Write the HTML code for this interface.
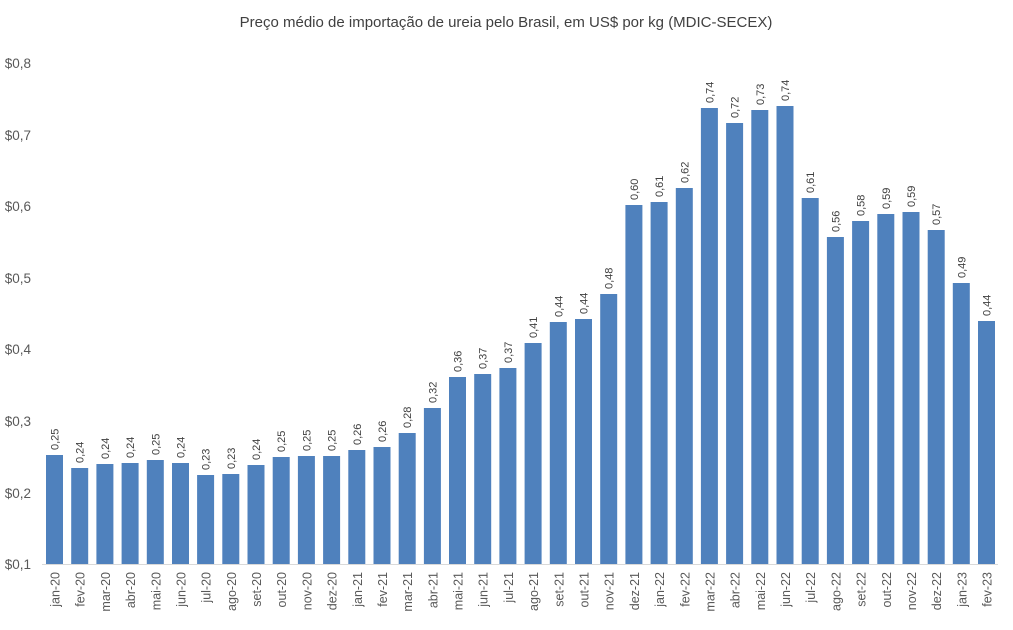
<!DOCTYPE html>
<html><head><meta charset="utf-8"><style>
html,body{margin:0;padding:0;background:#fff;}
svg{display:block;font-family:"Liberation Sans",sans-serif;}
.v{font-size:11px;fill:#404040;}
.m{font-size:12.5px;fill:#595959;text-anchor:end;}
.b{fill:#4f81bd;}
</style></head><body>
<svg width="1013" height="630" xmlns="http://www.w3.org/2000/svg">
<rect width="1013" height="630" fill="#fff"/>
<text x="506" y="27" text-anchor="middle" font-size="15" fill="#404040">Preço médio de importação de ureia pelo Brasil, em US$ por kg (MDIC-SECEX)</text>
<g font-size="13.5" fill="#595959" text-anchor="end">
<text x="31" y="569">$0,1</text><text x="31" y="498">$0,2</text><text x="31" y="426">$0,3</text><text x="31" y="354">$0,4</text><text x="31" y="283">$0,5</text><text x="31" y="211">$0,6</text><text x="31" y="140">$0,7</text><text x="31" y="68">$0,8</text>
</g>
<line x1="42" y1="564.5" x2="998" y2="564.5" stroke="#d9d9d9" stroke-width="1"/>
<g transform="translate(46,0)"><rect class="b" x="0" y="455" width="17" height="109"/><text class="v" transform="translate(12.5,450) rotate(-90)">0,25</text><text class="m" transform="translate(13.5,572) rotate(-90)">jan-20</text></g>
<g transform="translate(71.2,0)"><rect class="b" x="0" y="468" width="17" height="96"/><text class="v" transform="translate(12.5,463) rotate(-90)">0,24</text><text class="m" transform="translate(13.5,572) rotate(-90)">fev-20</text></g>
<g transform="translate(96.4,0)"><rect class="b" x="0" y="464" width="17" height="100"/><text class="v" transform="translate(12.5,459) rotate(-90)">0,24</text><text class="m" transform="translate(13.5,572) rotate(-90)">mar-20</text></g>
<g transform="translate(121.6,0)"><rect class="b" x="0" y="463" width="17" height="101"/><text class="v" transform="translate(12.5,458) rotate(-90)">0,24</text><text class="m" transform="translate(13.5,572) rotate(-90)">abr-20</text></g>
<g transform="translate(146.8,0)"><rect class="b" x="0" y="460" width="17" height="104"/><text class="v" transform="translate(12.5,455) rotate(-90)">0,25</text><text class="m" transform="translate(13.5,572) rotate(-90)">mai-20</text></g>
<g transform="translate(172,0)"><rect class="b" x="0" y="463" width="17" height="101"/><text class="v" transform="translate(12.5,458) rotate(-90)">0,24</text><text class="m" transform="translate(13.5,572) rotate(-90)">jun-20</text></g>
<g transform="translate(197.1,0)"><rect class="b" x="0" y="475" width="17" height="89"/><text class="v" transform="translate(12.5,470) rotate(-90)">0,23</text><text class="m" transform="translate(13.5,572) rotate(-90)">jul-20</text></g>
<g transform="translate(222.3,0)"><rect class="b" x="0" y="474" width="17" height="90"/><text class="v" transform="translate(12.5,469) rotate(-90)">0,23</text><text class="m" transform="translate(13.5,572) rotate(-90)">ago-20</text></g>
<g transform="translate(247.5,0)"><rect class="b" x="0" y="465" width="17" height="99"/><text class="v" transform="translate(12.5,460) rotate(-90)">0,24</text><text class="m" transform="translate(13.5,572) rotate(-90)">set-20</text></g>
<g transform="translate(272.7,0)"><rect class="b" x="0" y="457" width="17" height="107"/><text class="v" transform="translate(12.5,452) rotate(-90)">0,25</text><text class="m" transform="translate(13.5,572) rotate(-90)">out-20</text></g>
<g transform="translate(297.9,0)"><rect class="b" x="0" y="456" width="17" height="108"/><text class="v" transform="translate(12.5,451) rotate(-90)">0,25</text><text class="m" transform="translate(13.5,572) rotate(-90)">nov-20</text></g>
<g transform="translate(323.1,0)"><rect class="b" x="0" y="456" width="17" height="108"/><text class="v" transform="translate(12.5,451) rotate(-90)">0,25</text><text class="m" transform="translate(13.5,572) rotate(-90)">dez-20</text></g>
<g transform="translate(348.3,0)"><rect class="b" x="0" y="450" width="17" height="114"/><text class="v" transform="translate(12.5,445) rotate(-90)">0,26</text><text class="m" transform="translate(13.5,572) rotate(-90)">jan-21</text></g>
<g transform="translate(373.5,0)"><rect class="b" x="0" y="447" width="17" height="117"/><text class="v" transform="translate(12.5,442) rotate(-90)">0,26</text><text class="m" transform="translate(13.5,572) rotate(-90)">fev-21</text></g>
<g transform="translate(398.7,0)"><rect class="b" x="0" y="433" width="17" height="131"/><text class="v" transform="translate(12.5,428) rotate(-90)">0,28</text><text class="m" transform="translate(13.5,572) rotate(-90)">mar-21</text></g>
<g transform="translate(423.9,0)"><rect class="b" x="0" y="408" width="17" height="156"/><text class="v" transform="translate(12.5,403) rotate(-90)">0,32</text><text class="m" transform="translate(13.5,572) rotate(-90)">abr-21</text></g>
<g transform="translate(449,0)"><rect class="b" x="0" y="377" width="17" height="187"/><text class="v" transform="translate(12.5,372) rotate(-90)">0,36</text><text class="m" transform="translate(13.5,572) rotate(-90)">mai-21</text></g>
<g transform="translate(474.2,0)"><rect class="b" x="0" y="374" width="17" height="190"/><text class="v" transform="translate(12.5,369) rotate(-90)">0,37</text><text class="m" transform="translate(13.5,572) rotate(-90)">jun-21</text></g>
<g transform="translate(499.4,0)"><rect class="b" x="0" y="368" width="17" height="196"/><text class="v" transform="translate(12.5,363) rotate(-90)">0,37</text><text class="m" transform="translate(13.5,572) rotate(-90)">jul-21</text></g>
<g transform="translate(524.6,0)"><rect class="b" x="0" y="343" width="17" height="221"/><text class="v" transform="translate(12.5,338) rotate(-90)">0,41</text><text class="m" transform="translate(13.5,572) rotate(-90)">ago-21</text></g>
<g transform="translate(549.8,0)"><rect class="b" x="0" y="322" width="17" height="242"/><text class="v" transform="translate(12.5,317) rotate(-90)">0,44</text><text class="m" transform="translate(13.5,572) rotate(-90)">set-21</text></g>
<g transform="translate(575,0)"><rect class="b" x="0" y="319" width="17" height="245"/><text class="v" transform="translate(12.5,314) rotate(-90)">0,44</text><text class="m" transform="translate(13.5,572) rotate(-90)">out-21</text></g>
<g transform="translate(600.2,0)"><rect class="b" x="0" y="294" width="17" height="270"/><text class="v" transform="translate(12.5,289) rotate(-90)">0,48</text><text class="m" transform="translate(13.5,572) rotate(-90)">nov-21</text></g>
<g transform="translate(625.4,0)"><rect class="b" x="0" y="205" width="17" height="359"/><text class="v" transform="translate(12.5,200) rotate(-90)">0,60</text><text class="m" transform="translate(13.5,572) rotate(-90)">dez-21</text></g>
<g transform="translate(650.6,0)"><rect class="b" x="0" y="202" width="17" height="362"/><text class="v" transform="translate(12.5,197) rotate(-90)">0,61</text><text class="m" transform="translate(13.5,572) rotate(-90)">jan-22</text></g>
<g transform="translate(675.8,0)"><rect class="b" x="0" y="188" width="17" height="376"/><text class="v" transform="translate(12.5,183) rotate(-90)">0,62</text><text class="m" transform="translate(13.5,572) rotate(-90)">fev-22</text></g>
<g transform="translate(700.9,0)"><rect class="b" x="0" y="108" width="17" height="456"/><text class="v" transform="translate(12.5,103) rotate(-90)">0,74</text><text class="m" transform="translate(13.5,572) rotate(-90)">mar-22</text></g>
<g transform="translate(726.1,0)"><rect class="b" x="0" y="123" width="17" height="441"/><text class="v" transform="translate(12.5,118) rotate(-90)">0,72</text><text class="m" transform="translate(13.5,572) rotate(-90)">abr-22</text></g>
<g transform="translate(751.3,0)"><rect class="b" x="0" y="110" width="17" height="454"/><text class="v" transform="translate(12.5,105) rotate(-90)">0,73</text><text class="m" transform="translate(13.5,572) rotate(-90)">mai-22</text></g>
<g transform="translate(776.5,0)"><rect class="b" x="0" y="106" width="17" height="458"/><text class="v" transform="translate(12.5,101) rotate(-90)">0,74</text><text class="m" transform="translate(13.5,572) rotate(-90)">jun-22</text></g>
<g transform="translate(801.7,0)"><rect class="b" x="0" y="198" width="17" height="366"/><text class="v" transform="translate(12.5,193) rotate(-90)">0,61</text><text class="m" transform="translate(13.5,572) rotate(-90)">jul-22</text></g>
<g transform="translate(826.9,0)"><rect class="b" x="0" y="237" width="17" height="327"/><text class="v" transform="translate(12.5,232) rotate(-90)">0,56</text><text class="m" transform="translate(13.5,572) rotate(-90)">ago-22</text></g>
<g transform="translate(852.1,0)"><rect class="b" x="0" y="221" width="17" height="343"/><text class="v" transform="translate(12.5,216) rotate(-90)">0,58</text><text class="m" transform="translate(13.5,572) rotate(-90)">set-22</text></g>
<g transform="translate(877.3,0)"><rect class="b" x="0" y="214" width="17" height="350"/><text class="v" transform="translate(12.5,209) rotate(-90)">0,59</text><text class="m" transform="translate(13.5,572) rotate(-90)">out-22</text></g>
<g transform="translate(902.5,0)"><rect class="b" x="0" y="212" width="17" height="352"/><text class="v" transform="translate(12.5,207) rotate(-90)">0,59</text><text class="m" transform="translate(13.5,572) rotate(-90)">nov-22</text></g>
<g transform="translate(927.7,0)"><rect class="b" x="0" y="230" width="17" height="334"/><text class="v" transform="translate(12.5,225) rotate(-90)">0,57</text><text class="m" transform="translate(13.5,572) rotate(-90)">dez-22</text></g>
<g transform="translate(952.8,0)"><rect class="b" x="0" y="283" width="17" height="281"/><text class="v" transform="translate(12.5,278) rotate(-90)">0,49</text><text class="m" transform="translate(13.5,572) rotate(-90)">jan-23</text></g>
<g transform="translate(978,0)"><rect class="b" x="0" y="321" width="17" height="243"/><text class="v" transform="translate(12.5,316) rotate(-90)">0,44</text><text class="m" transform="translate(13.5,572) rotate(-90)">fev-23</text></g>
</svg>
</body></html>
